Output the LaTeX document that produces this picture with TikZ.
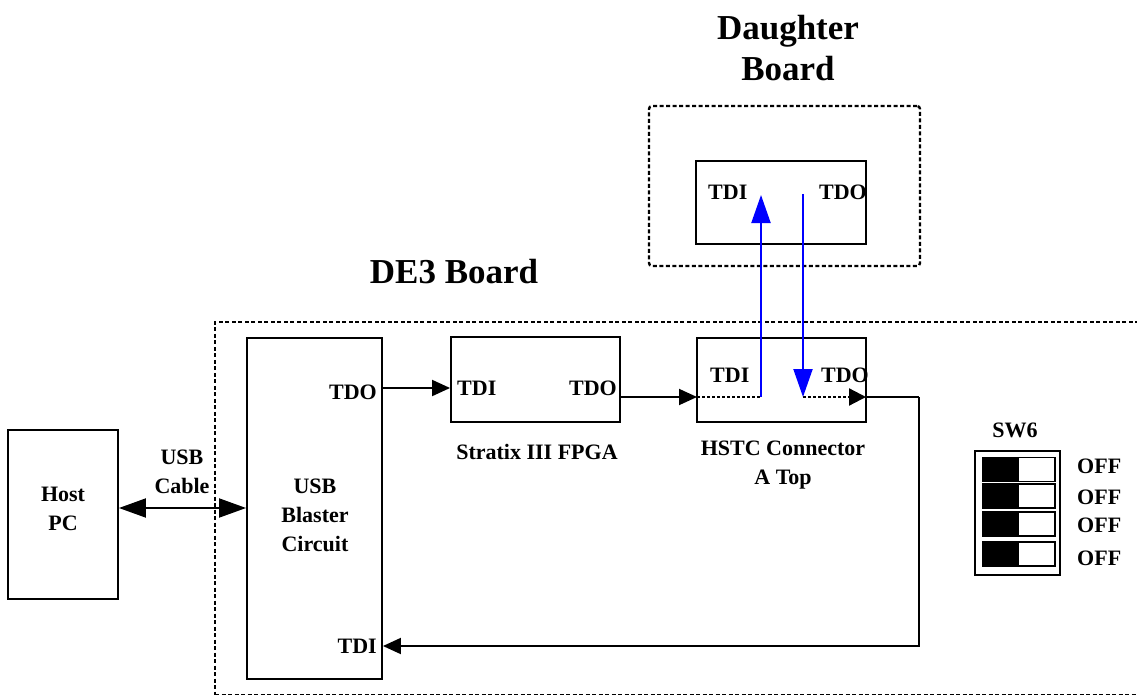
\documentclass[tikz,border=0pt]{standalone}
\usepackage{fontspec}
\setmainfont{Liberation Serif}
\usetikzlibrary{positioning, arrows.meta}

\begin{document}
\begin{tikzpicture}[x=1pt, y=-1pt,
  font=\fontsize{22}{29}\selectfont\bfseries,
  blk/.style={rectangle, draw, line width=1.9pt, inner sep=0pt},
  board/.style={rectangle, draw, line width=2.4pt, dash pattern=on 4pt off 2.5pt, inner sep=0pt},
  pin/.style={inner sep=1pt},
  ttl/.style={font=\fontsize{35}{41}\selectfont\bfseries, align=center},
  lbl/.style={align=center, inner sep=1pt},
  lever/.style={rectangle, draw, line width=1.6pt, minimum width=72pt, minimum height=24pt, inner sep=0pt},
  sig/.style={-{Triangle[length=18pt,width=16pt]}, line width=1.9pt},
  dotl/.style={line width=2.2pt, dash pattern=on 3pt off 2pt},
  jmp/.style={-{Triangle[length=28pt,width=19pt]}, line width=2pt, blue},
  cbl/.style={{Triangle[length=27pt,width=19pt]}-{Triangle[length=27pt,width=19pt]}, line width=1.9pt},
]
\useasboundingbox (0,0) rectangle (1137,695);
\clip (0,0) rectangle (1137,695);
% --- boards ---
\node[board, minimum width=945pt, minimum height=373pt] (de3) at (687.5,508.5) {};
\node[board, rounded corners=3pt, minimum width=271pt, minimum height=160pt] (dbrd) at (784.5,186) {};
\node[ttl] (de3t) at (454,272) {DE3 Board};
\node[ttl] (dbrdt) at (788,48) {Daughter\\Board};
% --- blocks ---
\node[blk, minimum width=110pt, minimum height=169pt] (host) at (63,514.5) {};
\node[lbl] (hostt) at (63,509) {Host\\PC};
\node[blk, minimum width=135pt, minimum height=341pt] (usb) at (314.5,508.5) {};
\node[lbl] (usbt) at (315,515) {USB\\Blaster\\Circuit};
\node[pin, anchor=east] (usbtdo) at (378,392) {TDO};
\node[pin, anchor=east] (usbtdi) at (378,646) {TDI};
\node[blk, minimum width=169pt, minimum height=85pt] (stx) at (535.5,379.5) {};
\node[pin, anchor=west] (stxtdi) at (456,388) {TDI};
\node[pin, anchor=east] (stxtdo) at (618,388) {TDO};
\node[lbl] (stxt) at (537,452) {Stratix III FPGA};
\node[blk, minimum width=169pt, minimum height=84pt] (hstc) at (781.5,380) {};
\node[pin, anchor=west] (htdi) at (709,375) {TDI};
\node[pin, anchor=east] (htdo) at (870,375) {TDO};
\node[lbl] (hstct) at (783,465) {HSTC Connector\\A Top};
\node[blk, minimum width=170pt, minimum height=83pt] (dcon) at (781,202.5) {};
\node[pin, anchor=west] (dtdi) at (707,192) {TDI};
\node[pin, anchor=east] (dtdo) at (868,192) {TDO};
\node[lbl] (cab) at (182,472) {USB\\Cable};
% --- switch ---
\node[blk, minimum width=85pt, minimum height=124pt] (sw) at (1017.5,513) {};
\node[lbl] (swt) at (1015,430) {SW6};
\foreach \i/\yy/\oy in {1/469.5/466, 2/496/497, 3/524/525, 4/554/558} {
  \node[lever] (lev\i) at (1019,\yy) {};
  \fill (lev\i.north west) rectangle (lev\i.south);
  \node[pin, anchor=west] (off\i) at (1076,\oy) {OFF};
}
% --- connectors ---
\coordinate (hin) at (697,397);
\coordinate (hmidl) at (761,397);
\coordinate (hmidr) at (803,397);
\coordinate (hout) at (866,397);
\coordinate (ret) at (919,397);
\coordinate (dup) at (761,195);
\coordinate (ddn) at (803,194);
\draw[cbl] ([yshift=6.5pt]host.east) -- ([yshift=6.5pt]host.east -| usb.west);
\draw[sig] (usb.east |- stxtdi) -- (stx.west |- stxtdi);
\draw[sig] (stx.east |- hin) -- (hin);
\draw[dotl] (hin) -- (hmidl);
\draw[dotl, -{Triangle[length=17pt,width=17pt]}] (hmidr) -- (hout);
\draw[jmp] (hmidl) -- (dup);
\draw[jmp] (ddn) -- (hmidr);
\draw[line width=1.9pt] (hout) -- (ret);
\draw[sig] (ret) |- (usb.east |- usbtdi);
\end{tikzpicture}
\end{document}
